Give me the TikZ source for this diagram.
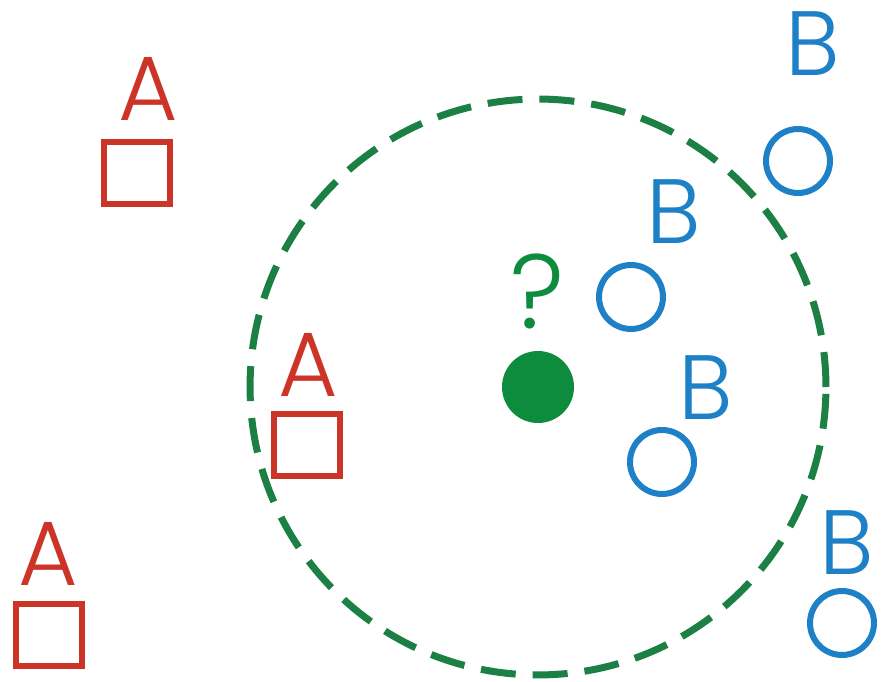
\documentclass[tikz,border=0pt]{standalone}
\usepackage{fontspec}
\setmainfont{Poppins Light}
\definecolor{classA}{RGB}{205,52,40}
\definecolor{classB}{RGB}{30,128,198}
\definecolor{ringgreen}{RGB}{28,128,68}
\definecolor{querygreen}{RGB}{14,140,62}
\tikzset{
  sqmark/.style={draw=classA,line width=.12cm,minimum width=1.32cm,minimum height=1.26cm,inner sep=0pt},
  ocmark/.style={circle,draw=classB,line width=.12cm,minimum size=1.28cm,inner sep=0pt},
  letterA/.style={text=classA,inner sep=0pt,font=\fontsize{52}{52}\selectfont},
  letterB/.style={text=classB,inner sep=0pt,font=\fontsize{52}{52}\selectfont},
}

\begin{document}
\begin{tikzpicture}[x=.02cm,y=-.02cm,line cap=butt]
  \useasboundingbox[fill=white] (0,0) rectangle (886,682);

  % neighbourhood
  \draw[ringgreen,line width=.14cm,dash pattern=on .7cm off .34cm]
    (538,387) circle[radius=5.76cm];

  % class A
  \node[sqmark]  (sqa1) at (137,173) {};
  \node[letterA] (lba1) at (148,89) {A};
  \node[sqmark]  (sqa2) at (307,445) {};
  \node[letterA] (lba2) at (308,365) {A};
  \node[sqmark]  (sqa3) at (49,635) {};
  \node[letterA] (lba3) at (48,554) {A};

  % class B
  \node[ocmark]  (ocb1) at (798,161) {};
  \node[letterB] (lbb1) at (813,44) {B};
  \node[ocmark]  (ocb2) at (631,297) {};
  \node[letterB] (lbb2) at (674,212) {B};
  \node[ocmark]  (ocb3) at (662,462) {};
  \node[letterB] (lbb3) at (706,388) {B};
  \node[ocmark]  (ocb4) at (842,623) {};
  \node[letterB] (lbb4) at (847,543) {B};

  % query point
  \node[circle,fill=querygreen,minimum size=1.44cm,inner sep=0pt] (qpt) at (538,387) {};
  \node[text=querygreen,inner sep=0pt,font=\fontsize{60}{60}\selectfont] (qmark) at (537,291) {?};
\end{tikzpicture}
\end{document}
